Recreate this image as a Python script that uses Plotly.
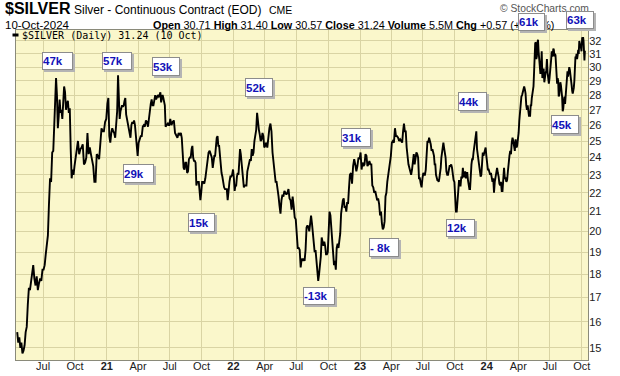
import numpy as np
import pandas as pd
import plotly.graph_objects as go

# ---------------- data (daily-ish closes, grouped by month) -------------
silver_2020 = [  # Apr (from mid-month) .. Dec
    [15.6, 15.2, 15.4, 15.0, 15.2],
    [14.8, 14.9, 15.1, 15.6, 15.8, 16.7, 17.4, 17.3, 17.6, 17.9],
    [18.4, 17.8, 17.5, 17.9, 17.3, 17.6, 17.8, 17.7, 18.2],
    [18.2, 18.4, 18.9, 19.3, 19.8, 21.4, 22.8, 22.6, 24.3, 24.4],
    [26.1, 28.4, 29.2, 28.0, 25.8, 26.6, 27.7, 26.8, 27.0, 26.4, 27.6, 28.6],
    [28.2, 27.0, 27.4, 27.6, 26.8, 27.1, 24.5, 22.8, 23.3, 23.0, 23.5],
    [24.0, 24.3, 25.0, 24.2, 24.5, 24.6, 24.8, 23.6, 23.7],
    [24.0, 25.5, 24.2, 24.6, 24.2, 23.8, 23.5, 22.6, 22.6],
    [24.2, 24.1, 23.9, 24.7, 25.8, 25.6, 25.6, 26.2, 26.4],
]
silver_2021 = [
    [27.4, 27.8, 25.3, 24.9, 25.5, 25.8, 25.6, 25.5, 25.2, 26.1, 26.9],
    [29.4, 26.9, 26.4, 26.9, 27.2, 27.3, 27.2, 27.3, 27.6, 27.8, 26.7, 26.4],
    [26.1, 25.6, 25.3, 25.2, 26.0, 26.2, 26.1, 26.3, 26.0, 25.2, 25.0, 24.1],
    [24.9, 25.2, 25.3, 25.3, 25.9, 26.0, 25.9, 26.3, 26.2, 25.9],
    [26.6, 27.2, 27.4, 27.7, 27.3, 27.3, 27.8, 28.0, 27.7, 27.9, 28.0, 27.9],
    [28.0, 28.2, 27.5, 27.8, 28.0, 27.8, 27.6, 27.3, 25.9, 26.0, 26.0, 26.1, 26.0, 26.0],
    [26.4, 26.0, 26.2, 26.3, 25.5, 25.3, 25.2, 25.5, 25.4],
    [25.5, 25.2, 24.3, 23.4, 23.3, 23.7, 23.7, 23.1, 23.2, 23.9, 24.0, 24.0],
    [24.5, 24.7, 24.0, 23.8, 23.8, 23.7, 22.4, 22.6, 22.6, 22.6, 22.1, 21.6, 22.0],
    [22.6, 22.6, 22.5, 22.8, 23.3, 23.8, 24.3, 24.4, 24.2, 24.0],
    [23.4, 23.7, 24.1, 24.1, 24.8, 25.2, 25.3, 24.7, 24.7, 24.0, 23.7, 23.1, 22.9],
    [22.4, 22.3, 22.2, 22.2, 22.2, 21.6, 22.4, 22.6, 22.9, 22.9, 23.0, 23.3],
]
silver_2022 = [
    [22.8, 22.1, 22.4, 22.4, 22.9, 23.1, 23.0, 24.4, 24.5, 24.2, 23.7, 23.3, 22.6, 22.3],
    [22.4, 22.4, 22.4, 23.2, 23.5, 23.7, 23.9, 23.8, 24.5, 24.1, 24.3],
    [25.0, 25.4, 25.7, 26.8, 26.0, 25.7, 25.4, 25.0, 25.1, 25.5, 25.3, 24.6],
    [24.7, 24.9, 24.6, 25.3, 25.8, 26.1, 25.6, 24.3, 23.7, 23.0],
    [22.6, 22.6, 22.3, 21.8, 21.3, 20.9, 21.6, 21.9, 21.8, 22.1, 22.0],
    [21.9, 22.0, 22.2, 21.7, 21.6, 21.1, 21.8, 21.3, 20.7, 20.6],
    [19.9, 19.2, 19.2, 19.1, 18.3, 18.7, 18.6, 18.7, 18.6, 19.1, 20.2],
    [20.3, 20.2, 20.0, 20.4, 20.8, 20.4, 19.9, 19.2, 19.0, 19.1, 18.7, 18.0],
    [17.7, 18.0, 18.3, 18.8, 19.7, 19.5, 19.3, 19.5, 19.3, 18.9, 18.9, 19.0],
    [20.6, 21.0, 20.8, 20.1, 19.2, 18.8, 18.4, 18.6, 18.2, 19.2, 19.4, 19.2],
    [19.6, 19.9, 20.9, 21.5, 21.6, 21.7, 21.2, 21.3, 21.0, 21.5, 21.4, 22.2],
    [23.0, 23.1, 22.5, 23.5, 23.9, 23.6, 23.2, 23.5, 24.0, 23.9],
]
silver_2023 = [
    [24.3, 23.3, 23.7, 23.5, 23.6, 24.2, 24.1, 23.5, 23.6, 23.8, 23.6],
    [23.6, 22.4, 22.3, 22.0, 22.1, 21.9, 21.6, 21.7, 21.4, 20.8],
    [21.0, 20.4, 20.1, 20.2, 20.5, 21.8, 22.0, 22.6, 23.0, 23.2, 23.7, 24.1],
    [24.9, 25.0, 24.9, 25.8, 25.3, 25.3, 25.2, 25.0, 25.1, 25.0],
    [24.9, 25.6, 26.1, 25.6, 25.6, 24.6, 23.9, 23.6, 23.4, 23.2, 23.0, 23.3],
    [23.7, 24.2, 23.6, 24.0, 24.3, 24.2, 24.0, 22.8, 22.8, 22.5, 22.3, 22.8],
    [23.1, 23.0, 23.0, 23.3, 24.4, 25.0, 24.9, 25.2, 25.0, 24.8, 24.4, 24.5, 24.3],
    [24.1, 23.6, 23.6, 23.0, 22.8, 22.7, 22.7, 22.6, 22.8, 23.0, 23.4, 24.0, 24.3, 24.5, 24.9, 24.6],
    [24.3, 24.0, 23.2, 23.0, 23.0, 23.2, 23.5, 23.5, 23.6, 23.4, 22.9, 22.7, 22.6],
    [21.5, 21.0, 21.0, 21.9, 22.1, 22.7, 22.4, 22.4, 22.9, 22.8, 23.4, 22.9, 22.9, 23.2],
    [22.8, 23.1, 23.1, 22.7, 22.3, 22.2, 22.2, 23.5, 23.6, 23.9, 23.9, 24.3, 24.6, 25.0, 25.4],
    [25.6, 24.5, 24.1, 24.0, 23.6, 23.0, 22.9, 23.0, 24.0, 24.3, 24.1, 24.3, 24.5, 24.6, 24.1],
]
silver_2024 = [  # Jan .. Oct (to the 10th)
    [23.7, 23.3, 23.3, 23.1, 23.0, 23.1, 22.9, 22.6, 22.8, 22.0, 22.6, 22.8, 23.1, 23.4],
    [23.1, 22.9, 22.5, 22.4, 22.6, 22.1, 22.1, 22.7, 23.4, 22.8, 22.8, 22.6, 22.7],
    [23.2, 23.9, 24.1, 24.4, 24.2, 24.9, 25.2, 25.0, 24.7, 24.4, 25.1, 24.6, 24.7, 25.0],
    [25.5, 26.3, 27.0, 27.4, 27.9, 28.0, 28.3, 28.4, 28.6, 28.4, 28.1, 27.3, 27.0, 27.3, 26.7],
    [26.6, 26.6, 26.6, 27.3, 27.3, 27.8, 28.2, 28.3, 28.6, 29.6, 31.2, 31.8, 31.9, 30.6,
     30.8, 31.9, 32.1, 31.2, 30.5],
    [30.3, 29.5, 29.9, 31.2, 29.2, 29.5, 29.9, 28.9, 29.5, 29.6, 29.7, 30.6, 29.6, 29.0, 28.8, 29.2],
    [29.6, 29.8, 30.6, 31.2, 30.8, 31.0, 31.4, 31.3, 30.8, 31.0, 30.9, 30.0, 29.1, 28.8, 29.2,
     29.0, 27.9, 28.0, 28.5, 28.9],
    [28.7, 28.4, 27.9, 26.9, 27.1, 27.6, 27.9, 27.4, 28.1, 28.6, 29.2, 29.7, 29.3, 29.6, 30.0,
     29.8, 29.2, 28.9],
    [28.7, 28.3, 28.1, 28.3, 28.5, 29.0, 29.9, 30.8, 30.7, 31.0, 30.6, 30.9, 31.3, 31.0, 32.0,
     31.8, 31.5, 31.5, 31.2],
    [31.8, 32.3, 32.0, 32.3, 32.0, 31.4, 30.5, 31.24],
]

tick_dates = ["2020-07-01", "2020-10-01", "2021-01-01", "2021-04-01", "2021-07-01", "2021-10-01",
              "2022-01-01", "2022-04-01", "2022-07-01", "2022-10-01", "2023-01-01", "2023-04-01",
              "2023-07-01", "2023-10-01", "2024-01-01", "2024-04-01", "2024-07-01", "2024-10-01"]
tick_labels = ["Jul", "Oct", "<b>21</b>", "Apr", "Jul", "Oct", "<b>22</b>", "Apr", "Jul", "Oct",
               "<b>23</b>", "Apr", "Jul", "Oct", "<b>24</b>", "Apr", "Jul", "Oct"]
price_ticks = list(range(15, 33))

volume_labels = ["47k", "57k", "53k", "52k", "29k", "15k", "-13k", "- 8k", "31k", "12k",
                 "44k", "45k", "61k", "63k"]

# ---------------- build the series ----------------
FIRST_DAY = pd.Timestamp("2020-04-16")
LAST_DAY = pd.Timestamp("2024-10-10")

dates, prices = [], []
for year, first_month, months in [(2020, 4, silver_2020), (2021, 1, silver_2021),
                                  (2022, 1, silver_2022), (2023, 1, silver_2023),
                                  (2024, 1, silver_2024)]:
    for k, vals in enumerate(months):
        ms = pd.Timestamp(year=year, month=first_month + k, day=1)
        me = ms + pd.offsets.MonthBegin(1)
        n = len(vals)
        if year == 2020 and k == 0:
            ms = FIRST_DAY
        if year == 2024 and k == len(months) - 1:
            ds = pd.to_datetime(np.linspace(ms.value, LAST_DAY.value, n))
        else:
            step = (me - ms) / n
            ds = [ms + step * (i + 0.5) for i in range(n)]
        dates.extend(ds)
        prices.extend(vals)

# ---------------- layout geometry ----------------
W, H = 620, 376
L, R, T, B = 16, 588, 30, 360


def px(x):  # page pixel -> paper
    return (x - L) / (R - L)


def py(y):
    return (B - y) / (B - T)


BG = "#FAF7CB"
GRID = "#D9D4A4"
FONT = "Liberation Sans"

fig = go.Figure()
fig.add_trace(go.Scatter(x=dates, y=prices, mode="lines",
                         line=dict(color="#000000", width=1.9),
                         hoverinfo="skip", showlegend=False))

shapes = []
annotations = []

# legend line inside plot
shapes.append(dict(type="line", xref="paper", yref="paper", x0=px(12.5), x1=px(18.5),
                   y0=py(35), y1=py(35), line=dict(color="#000", width=3), layer="above"))
annotations.append(dict(xref="paper", yref="paper", x=px(20), y=py(35.5), xanchor="left",
                        yanchor="middle", showarrow=False,
                        text="$SILVER (Daily) 31.24 (10 Oct)",
                        font=dict(family="DejaVu Sans Mono", size=10, color="#000")))

# header
annotations += [
    dict(xref="paper", yref="paper", x=px(3), y=py(9), xanchor="left", yanchor="middle",
         showarrow=False, text="<b>$SILVER</b>",
         font=dict(family=FONT, size=16, color="#000")),
    dict(xref="paper", yref="paper", x=px(72), y=py(9.5), xanchor="left", yanchor="middle",
         showarrow=False, text="Silver - Continuous Contract (EOD)",
         font=dict(family=FONT, size=12, color="#000")),
    dict(xref="paper", yref="paper", x=px(267), y=py(10), xanchor="left", yanchor="middle",
         showarrow=False, text="CME",
         font=dict(family=FONT, size=10.5, color="#000")),
    dict(xref="paper", yref="paper", x=px(3), y=py(24.5), xanchor="left", yanchor="middle",
         showarrow=False, text="10-Oct-2024",
         font=dict(family=FONT, size=11.5, color="#000")),
    dict(xref="paper", yref="paper", x=px(151), y=py(24.5), xanchor="left", yanchor="middle",
         showarrow=False,
         text="<b>Open</b> 30.71 <b>High</b> 31.40 <b>Low</b> 30.57 <b>Close</b> 31.24 "
              "<b>Volume</b> 5.5M <b>Chg</b> +0.57 (+1.86%)",
         font=dict(family=FONT, size=10.8, color="#000")),
    dict(xref="paper", yref="paper", x=px(498), y=py(8.5), xanchor="left", yanchor="middle",
         showarrow=False, text="© StockCharts.com",
         font=dict(family=FONT, size=10.3, color="#555")),
]

# volume boxes (left, top, right, bottom in page px) drawn as annotations so they cover text
boxes = [(42, 52, 73, 70), (102, 52, 132, 70), (152, 57, 180, 76), (245, 78, 273, 97),
         (123, 164, 154, 183), (188, 213, 215, 232), (303, 287, 335, 305), (369, 238, 399, 257),
         (341, 128, 371, 147), (446, 219, 475, 237), (458, 92, 487, 111), (551, 115, 579, 134),
         (518, 13, 545, 31), (566, 11, 594, 29)]
for txt, (l, t, r, b) in zip(volume_labels, boxes):
    w, h = r - l, b - t
    # shadow
    annotations.append(dict(xref="paper", yref="paper", x=px(l + 2), y=py(t + 2),
                            xanchor="left", yanchor="top", showarrow=False, text=" ",
                            width=w - 2, height=h - 2, borderpad=0, borderwidth=1,
                            bgcolor="#B4B4B4", bordercolor="#B4B4B4",
                            font=dict(size=8)))
    annotations.append(dict(xref="paper", yref="paper", x=px(l), y=py(t),
                            xanchor="left", yanchor="top", showarrow=False,
                            text="<b>%s</b>" % txt, align="left", valign="middle",
                            width=w - 2, height=h - 2, borderpad=0, borderwidth=1,
                            bgcolor="#FFFFFF", bordercolor="#8C8C8C",
                            font=dict(family=FONT, size=11.5, color="#1212B8")))

fig.update_layout(
    width=W, height=H,
    margin=dict(l=L, r=W - R, t=T, b=H - B, pad=0, autoexpand=False),
    paper_bgcolor="#FFFFFF",
    plot_bgcolor=BG,
    showlegend=False,
    hovermode=False,
    shapes=shapes,
    annotations=annotations,
    xaxis=dict(type="date", range=["2020-04-14", "2024-10-19"],
               tickvals=tick_dates, ticktext=tick_labels, tickangle=0,
               showgrid=True, gridcolor=GRID, gridwidth=1,
               showline=True, linecolor="#8A8A7A", linewidth=1, mirror=True,
               ticks="", ticklen=0, zeroline=False, automargin=False,
               ticklabelstandoff=-4,
               tickfont=dict(family=FONT, size=11, color="#222")),
    yaxis=dict(type="log", side="right",
               range=[np.log10(14.56), np.log10(32.88)],
               tickvals=price_ticks, ticktext=[str(v) for v in price_ticks],
               showgrid=True, gridcolor=GRID, gridwidth=1,
               showline=True, linecolor="#8A8A7A", linewidth=1, mirror=True,
               ticks="", ticklen=0, zeroline=False, automargin=False,
               ticklabelstandoff=-2,
               tickfont=dict(family=FONT, size=11, color="#222")),
)

# the page body has a default 8px margin; remove it so the figure sits at the window origin
fig.write_html("out.html", config={"displayModeBar": False},
               post_script="document.body.style.margin='0px';")
